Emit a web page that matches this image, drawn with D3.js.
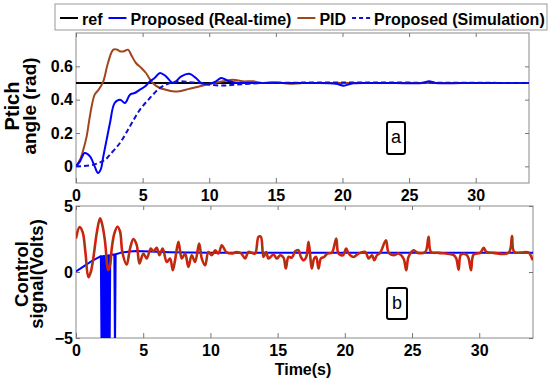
<!DOCTYPE html>
<html>
<head>
<meta charset="utf-8">
<script src="https://cdn.jsdelivr.net/npm/d3@7"></script>
<style>
  body { margin: 0; background: #fff; }
  text { font-family: "Liberation Sans", Arial, sans-serif; }
</style>
</head>
<body>
<div id="chart"></div>
<script>
// panel a: pitch angle (rad)
const refT = [0, 34];
const refAngle = [0.5, 0.5];

const rtT = [0, 0.3, 0.65, 1.05, 1.4, 1.65, 1.85, 2.05, 2.3, 2.55, 2.9, 3.3, 3.68, 4.05, 4.4, 4.8, 5.2, 5.55, 5.9, 6.3,
  6.75, 7.3, 7.9, 8.5, 9.0, 9.4, 10.0, 10.5, 10.9, 11.5, 12.2, 13, 14, 16, 18, 19.5, 20.1, 20.7, 22, 24, 26, 26.5, 27, 29, 34];
const rtAngle = [0.0, 0.03, 0.08, 0.06, 0.0, -0.04, -0.02, 0.06, 0.16, 0.26, 0.38, 0.40, 0.38, 0.43, 0.44, 0.46, 0.48, 0.51, 0.53, 0.56,
  0.54, 0.50, 0.54, 0.555, 0.53, 0.50, 0.495, 0.51, 0.53, 0.51, 0.5, 0.5, 0.5, 0.5, 0.5, 0.495, 0.484, 0.497, 0.5, 0.5, 0.5, 0.51, 0.5, 0.5, 0.5];

const pidT = [0, 0.3, 0.55, 0.8, 1.0, 1.2, 1.4, 1.7, 2.05, 2.4, 2.8, 3.1, 3.3, 3.6, 3.9, 4.2, 4.5, 4.9, 5.25, 5.75,
  6.3, 6.75, 7.25, 7.75, 8.25, 8.75, 9.3, 10.3, 11, 11.8, 12.5, 13.3, 14, 15, 16, 17, 18, 20, 34];
const pidAngle = [0.0, 0.04, 0.1, 0.18, 0.28, 0.37, 0.43, 0.46, 0.51, 0.62, 0.70, 0.70, 0.69, 0.69, 0.70, 0.66, 0.62, 0.59, 0.56, 0.50,
  0.47, 0.46, 0.45, 0.45, 0.46, 0.47, 0.48, 0.50, 0.51, 0.52, 0.51, 0.51, 0.5, 0.505, 0.495, 0.5, 0.5, 0.5, 0.5];

const simT = [0, 1, 1.7, 2.2, 2.55, 3.3, 4.05, 4.8, 5.55, 6.3, 7.05, 7.8, 8.5, 9.25, 10, 11, 12, 13, 14, 34];
const simAngle = [0.0, 0.005, 0.02, 0.04, 0.07, 0.14, 0.24, 0.34, 0.41, 0.47, 0.50, 0.51, 0.505, 0.5, 0.49, 0.485, 0.49, 0.495, 0.5, 0.5];

// panel b: control signal (volts)
const rtCtrlT = [0, 0.6, 1.2, 1.85, 1.9, 1.95, 2.0, 2.05, 2.1, 2.17, 2.22, 2.3, 2.37, 2.43, 2.5, 2.55, 2.6, 2.85,
  2.9, 2.95, 3.3, 4.0, 4.5, 5.5, 7, 10, 34];
const rtCtrl = [0.05, 0.45, 0.85, 1.2, -6, 1.2, -6, 1.22, -6, 1.24, -6, 1.25, -6, 1.26, -6, 1.28, 1.3, 1.32,
  -6, 1.35, 1.45, 1.55, 1.6, 1.55, 1.5, 1.45, 1.45];

const pidCtrlT = [0, 0.27, 0.5, 0.7, 0.92, 1.1, 1.3, 1.55, 1.79, 1.95,
  2.15, 2.4, 2.55, 2.65, 2.85, 3.08, 3.28, 3.45, 3.77, 4.02,
  4.27, 4.52, 4.72, 5.01, 5.26, 5.56, 5.76, 6.01, 6.2, 6.45,
  6.75, 7.0, 7.2, 7.37, 7.62, 7.87, 8.12, 8.36, 8.61, 8.86,
  9.16, 9.36, 9.61, 9.85, 10.1, 10.35, 10.6, 10.85, 11.17, 11.6,
  11.96, 12.3, 12.58, 12.83, 13.1, 13.33, 13.58, 13.75, 13.95, 14.15,
  14.32, 14.69, 14.94, 15.19, 15.44, 15.61, 15.81, 16.06, 16.31, 16.55,
  16.73, 16.93, 17.13, 17.3, 17.47, 17.55, 17.72, 17.87, 18.04, 18.22,
  18.46, 18.71, 19.04, 19.36, 19.53, 19.86, 20.1, 20.28, 20.65, 21.02,
  21.52, 21.77, 22.02, 22.19, 22.39, 22.63, 23.06, 23.26, 23.63, 24.0,
  24.37, 24.57, 24.74, 25.12, 25.42, 25.99, 26.23, 26.41, 26.98, 28.1,
  28.29, 28.47, 28.64, 29.04, 29.21, 29.39, 29.58, 30.08, 30.33, 30.53,
  31.07, 32.19, 32.44, 32.61, 33.68, 33.93, 34];
const pidCtrl = [2.54, 3.4, 3.0, 1.5, -0.4, 0.0, 1.14, 3.0, 4.06, 3.6,
  2.4, 0.13, 0.6, 1.7, 2.9, 3.43, 3.05, 1.5, 0.56, 1.78,
  2.49, 2.03, 0.64, 1.4, 1.02, 1.78, 1.57, 1.83, 1.27, 1.78,
  0.76, 1.02, 0.13, 0.89, 2.29, 1.02, 1.4, 0.38, 1.27, 0.76,
  2.16, 1.02, 0.51, 1.52, 1.27, 1.65, 1.4, 2.03, 1.52, 1.4,
  1.52, 1.4, 1.02, 1.52, 1.45, 1.4, 2.67, 2.67, 1.14, 1.52,
  1.02, 1.32, 1.02, 1.27, 1.09, 0.26, 1.14, 1.09, 1.57, 1.65,
  1.14, 0.89, 1.14, 2.29, 0.76, 0.26, 1.02, 1.14, 0.26, 1.02,
  1.14, 1.4, 1.47, 2.54, 1.4, 1.27, 1.78, 1.4, 1.14, 1.4,
  1.52, 1.02, 1.27, 0.89, 1.27, 1.45, 2.41, 1.47, 1.27, 1.4,
  1.02, 0.13, 1.14, 1.65, 1.45, 1.52, 2.67, 1.52, 1.45, 1.27,
  1.02, 0.18, 1.32, 1.32, 1.02, 0.13, 1.32, 1.45, 1.83, 1.52,
  1.45, 1.45, 2.72, 1.52, 1.47, 1.02, 0.9];

const timeTicks = [0, 5, 10, 15, 20, 25, 30];
const angleTicks = [0, 0.2, 0.4, 0.6];
const ctrlTicks = [-5, 0, 5];
const legendNames = ["ref", "Proposed (Real-time)", "PID", "Proposed (Simulation)"];

const w = 550, h = 384;
const FONT = "Liberation Sans, Arial, sans-serif";

const svg = d3.select("#chart").append("svg")
  .attr("width", w)
  .attr("height", h);

const xTop = d3.scaleLinear().domain([0, 34]).range([76, 529]);
const yTop = d3.scaleLinear().domain([-0.1, 0.8]).range([183, 33]);
const xBot = d3.scaleLinear().domain([0, 34]).range([76, 533]);
const yBot = d3.scaleLinear().domain([-5, 5]).range([338, 206]);

const zip = (t, v) => t.map((d, i) => [d, v[i]]);

const styleAxis = (g) => {
  g.select(".domain").remove();
  g.selectAll(".tick line").attr("stroke", "#777");
  g.selectAll("text")
    .attr("fill", "#000")
    .attr("font-family", FONT)
    .attr("font-weight", "bold")
    .attr("font-size", 16);
};

// frame, ticks on all four sides, labels left and bottom
const makeFrame = (x, y, id, yTicks, yFmt) => {
  const [x0, x1] = x.range();
  const [yb, yt] = y.range();

  svg.append("clipPath").attr("id", id)
    .append("rect")
    .attr("x", x0).attr("y", yt)
    .attr("width", x1 - x0).attr("height", yb - yt);

  svg.append("rect")
    .attr("x", x0).attr("y", yt)
    .attr("width", x1 - x0).attr("height", yb - yt)
    .attr("fill", "#fff")
    .attr("stroke", "#8a8a8a")
    .attr("stroke-width", 1);

  svg.append("g")
    .attr("transform", "translate(0," + yb + ")")
    .call(d3.axisBottom(x).tickValues(timeTicks).tickSizeInner(-5).tickSizeOuter(0).tickPadding(7))
    .call(styleAxis);
  svg.append("g")
    .attr("transform", "translate(0," + yt + ")")
    .call(d3.axisTop(x).tickValues(timeTicks).tickSizeInner(-4).tickSizeOuter(0).tickFormat(""))
    .call(styleAxis);
  svg.append("g")
    .attr("transform", "translate(" + x0 + ",0)")
    .call(d3.axisLeft(y).tickValues(yTicks).tickSizeInner(-4).tickSizeOuter(0).tickPadding(3).tickFormat(yFmt))
    .call(styleAxis);
  svg.append("g")
    .attr("transform", "translate(" + x1 + ",0)")
    .call(d3.axisRight(y).tickValues(yTicks).tickSizeInner(-4).tickSizeOuter(0).tickFormat(""))
    .call(styleAxis);
};

const drawLine = (x, y, id, pts, color, width, curve, dash) => {
  const line = d3.line()
    .x(d => x(d[0]))
    .y(d => y(d[1]))
    .curve(curve);
  svg.append("path")
    .datum(pts)
    .attr("clip-path", "url(#" + id + ")")
    .attr("d", line)
    .attr("fill", "none")
    .attr("stroke", color)
    .attr("stroke-width", width)
    .attr("stroke-linejoin", "round")
    .attr("stroke-dasharray", dash || null);
};

const BLUE = "#0000ff";
const BROWN = "#a0461c";

// panel a
makeFrame(xTop, yTop, "clipA", angleTicks, d3.format(".1~f"));
drawLine(xTop, yTop, "clipA", zip(refT, refAngle), "#000", 2, d3.curveLinear);
drawLine(xTop, yTop, "clipA", zip(pidT, pidAngle), BROWN, 2, d3.curveCatmullRom);
drawLine(xTop, yTop, "clipA", zip(rtT, rtAngle), BLUE, 2, d3.curveCatmullRom);
drawLine(xTop, yTop, "clipA", zip(simT, simAngle), "#1010cc", 2, d3.curveCatmullRom, "5,3");

// panel b
makeFrame(xBot, yBot, "clipB", ctrlTicks, d3.format("d"));
drawLine(xBot, yBot, "clipB", zip(rtCtrlT, rtCtrl), BLUE, 2, d3.curveLinear);
drawLine(xBot, yBot, "clipB", zip(pidCtrlT, pidCtrl), "#e41a10", 2.6, d3.curveCatmullRom.alpha(0.5));
drawLine(xBot, yBot, "clipB", zip(pidCtrlT, pidCtrl), "#7d4a10", 0.9, d3.curveCatmullRom.alpha(0.5));

// axis titles
const title = (txt, x, y, size, rot) => {
  svg.append("text")
    .text(txt)
    .attr("transform", "translate(" + x + "," + y + ")" + (rot ? " rotate(-90)" : ""))
    .attr("text-anchor", "middle")
    .attr("font-family", FONT)
    .attr("font-weight", "bold")
    .attr("font-size", size)
    .attr("fill", "#000");
};
title("Ptich", 19, 106, 20, true);
title("angle (rad)", 36, 106, 19, true);
title("Control", 28, 274, 18.5, true);
title("signal(Volts)", 43, 274, 18.5, true);
title("Time(s)", 303, 375, 16, false);

// panel tags
const tag = (txt, x, y, bw, bh, base) => {
  svg.append("rect")
    .attr("x", x).attr("y", y)
    .attr("width", bw).attr("height", bh)
    .attr("rx", 2)
    .attr("fill", "#fff")
    .attr("stroke", "#000")
    .attr("stroke-width", 2);
  svg.append("text")
    .text(txt)
    .attr("x", x + bw / 2)
    .attr("y", base)
    .attr("text-anchor", "middle")
    .attr("font-family", FONT)
    .attr("font-size", 18)
    .attr("fill", "#000");
};
tag("a", 387, 122, 18, 32, 143);
tag("b", 387, 288, 20, 31, 309);

// legend
const legendColors = ["#000", BLUE, BROWN, "#1010cc"];
const legendDash = [null, null, null, "4,3"];
const legend = svg.append("g");
legend.append("rect")
  .attr("x", 55).attr("y", 4)
  .attr("width", 492).attr("height", 26)
  .attr("fill", "#fff")
  .attr("stroke", "#999")
  .attr("stroke-width", 1);

let lx = 60;
legendNames.forEach((name, i) => {
  legend.append("line")
    .attr("x1", lx).attr("x2", lx + 18)
    .attr("y1", 18).attr("y2", 18)
    .attr("stroke", legendColors[i])
    .attr("stroke-width", 2)
    .attr("stroke-dasharray", legendDash[i]);
  const t = legend.append("text")
    .text(name)
    .attr("x", lx + 22)
    .attr("y", 25)
    .attr("font-family", FONT)
    .attr("font-weight", "bold")
    .attr("font-size", 16)
    .attr("fill", "#000");
  lx = lx + 22 + t.node().getComputedTextLength() + 6;
});
</script>
</body>
</html>
